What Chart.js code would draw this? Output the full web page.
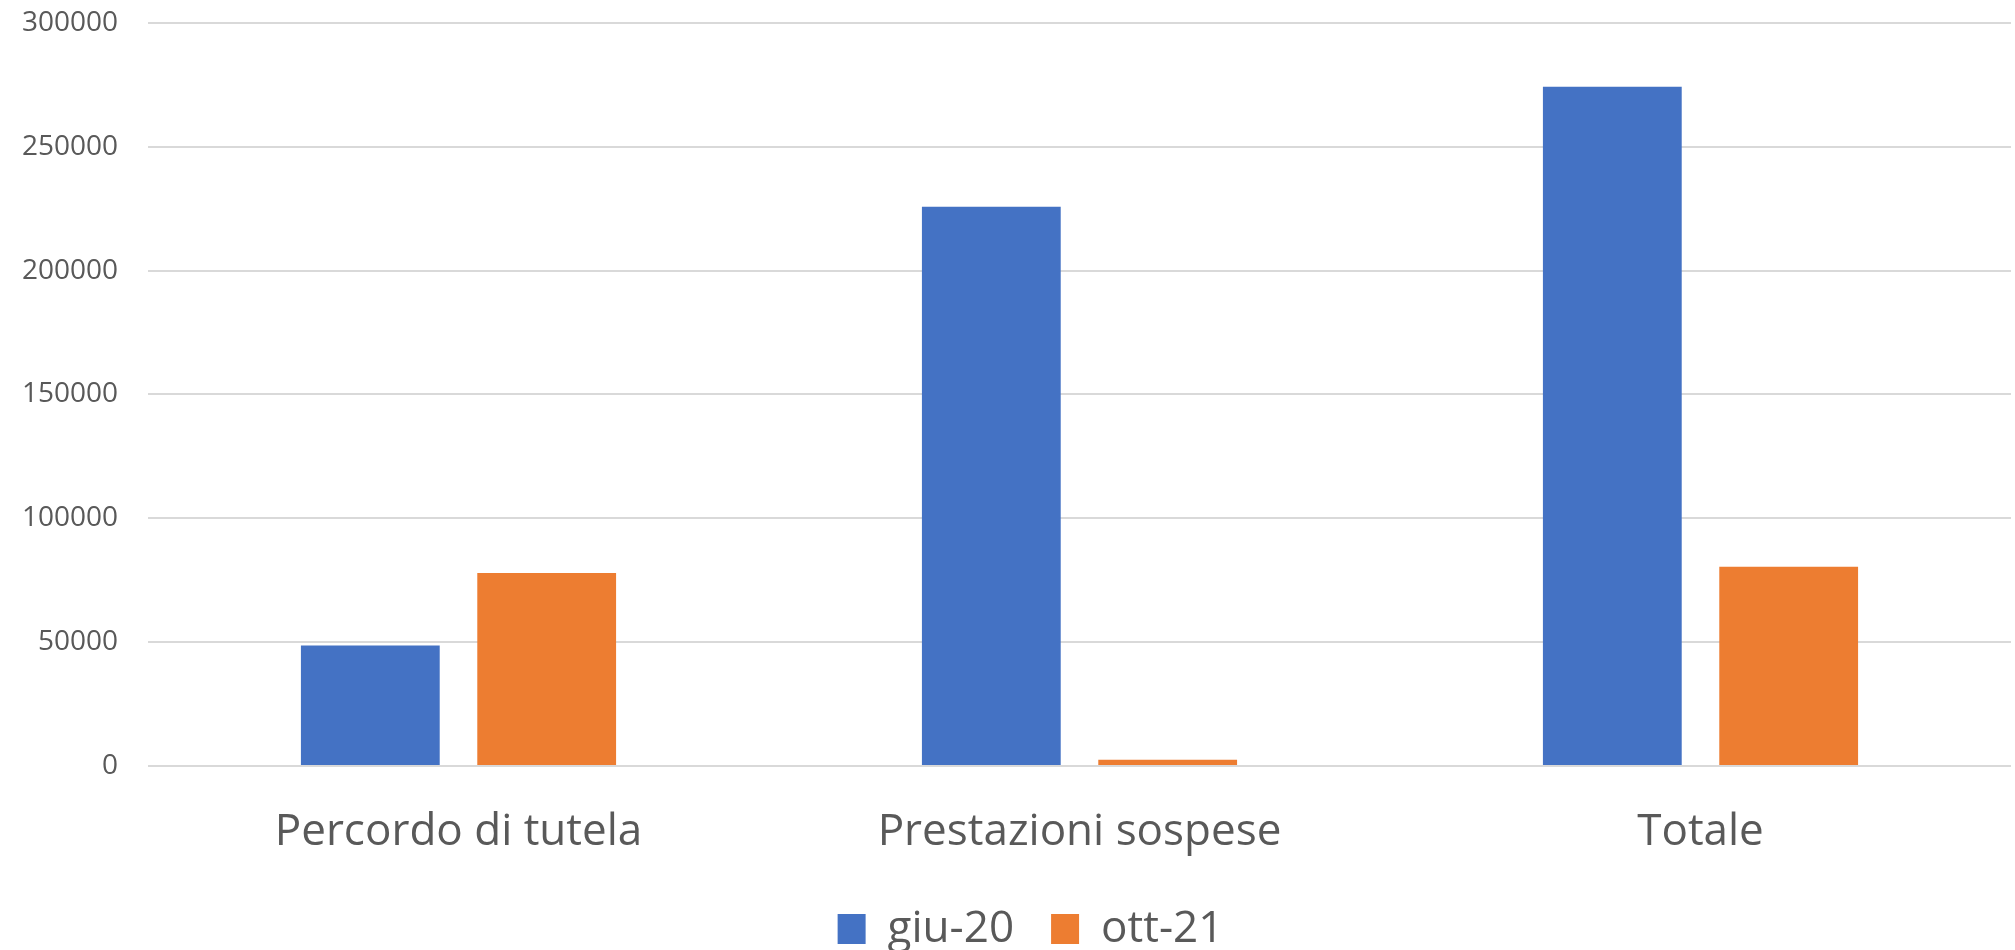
<!DOCTYPE html>
<html>
<head>
<meta charset="utf-8">
<script src="https://cdn.jsdelivr.net/npm/chart.js@4"></script>
<style>
    html, body { margin: 0; padding: 0; background: #fff; }
    #wrap { width: 2015px; height: 950px; }
</style>
</head>
<body>
<div id="wrap"><canvas id="barChart"></canvas></div>
<script>
const categories = ['Percordo di tutela', 'Prestazioni sospese', 'Totale']
const seriesNames = ['giu-20', 'ott-21']
const giu20 = [48600, 225700, 274200]
const ott21 = [77900, 2500, 80400]
const yTicks = [0, 50000, 100000, 150000, 200000, 250000, 300000]

window.addEventListener('load', () => {
    Chart.defaults.font.family = '"Open Sans", "Noto Sans", sans-serif'
    Chart.defaults.color = '#595959'

    // the legend sits a little right of the page centre in the original
    const legendShift = {
        id: 'legendShift',
        afterLayout: (chart) => {
            chart.legend.left += 25
            chart.legend.right += 25
        }
    }

    const el = document.getElementById('barChart')
    new Chart(el, {
        type: 'bar',
        data: {
            labels: categories,
            datasets: [
                {
                    label: seriesNames[0],
                    data: giu20,
                    backgroundColor: '#4472C4'
                },
                {
                    label: seriesNames[1],
                    data: ott21,
                    backgroundColor: '#ED7D31'
                }
            ]
        },
        plugins: [legendShift],
        options: {
            responsive: true,
            maintainAspectRatio: false,
            animation: false,
            categoryPercentage: 0.568,
            barPercentage: 0.787,
            layout: {
                padding: { left: 0, right: 4, top: 0, bottom: -11 }
            },
            plugins: {
                tooltip: { enabled: false },
                legend: {
                    position: 'bottom',
                    labels: {
                        boxWidth: 28,
                        boxHeight: 30,
                        padding: 37,
                        font: { size: 44 }
                    }
                }
            },
            scales: {
                x: {
                    grid: { display: false, drawTicks: false },
                    border: { display: false },
                    afterFit: (scale) => {
                        scale.height = 104
                    },
                    ticks: {
                        padding: 40,
                        font: { size: 44 }
                    }
                },
                y: {
                    min: yTicks[0],
                    max: yTicks[yTicks.length - 1],
                    afterBuildTicks: (scale) => {
                        scale.ticks = yTicks.map(v => ({ value: v }))
                    },
                    afterFit: (scale) => {
                        scale.width = 148
                    },
                    grid: {
                        color: '#d9d9d9',
                        lineWidth: 2,
                        drawTicks: true,
                        tickLength: 24,
                        tickColor: 'rgba(0,0,0,0)'
                    },
                    border: { display: false },
                    ticks: {
                        padding: 6,
                        font: { size: 28 },
                        callback: (v) => String(v)
                    }
                }
            }
        }
    })
})
</script>
</body>
</html>
